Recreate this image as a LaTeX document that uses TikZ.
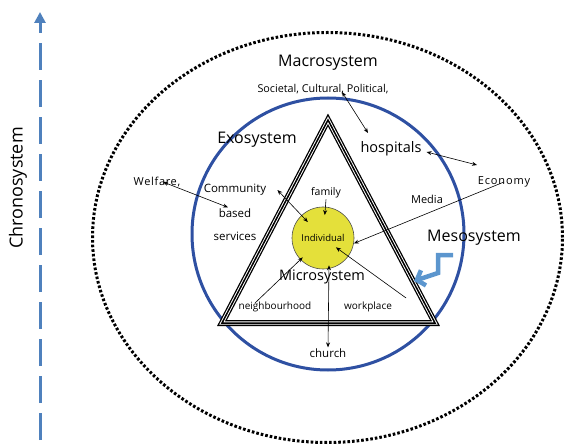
\documentclass[tikz,border=0pt]{standalone}
\usepackage{fontspec}
\setmainfont{Open Sans}
\usepackage{xcolor}
\usetikzlibrary{arrows.meta}
\definecolor{chronoblue}{RGB}{79,129,189}
\definecolor{exoblue}{RGB}{46,80,162}
\definecolor{mesoblue}{RGB}{92,150,206}
\definecolor{indyellow}{RGB}{228,224,58}

\begin{document}
\begin{tikzpicture}[x=1pt,y=-1pt,
  conn/.style={line width=0.6pt,-{Stealth[length=5pt,width=4pt]}},
  both/.style={line width=0.6pt,{Stealth[length=5pt,width=4pt]}-{Stealth[length=5pt,width=4pt]}},
  sys/.style={font=\fontsize{16}{18}\selectfont,inner sep=1pt},
  lbl/.style={font=\fontsize{11}{13}\selectfont,inner sep=1pt}]
  \useasboundingbox (0,0) rectangle (567,446);

  % outer rings
  \draw[line width=3pt,dash pattern=on 2.6pt off 2pt] (327.5,237.5) ellipse [x radius=235pt,y radius=205pt];
  \draw[exoblue,line width=3pt] (328,234) circle (136pt);

  % triangle
  \coordinate (top) at (328,120);
  \coordinate (left) at (222,323);
  \coordinate (right) at (435,323);
  \draw[line width=6pt,line join=miter] (top) -- (left) -- (right) -- cycle;
  \draw[white,line width=3.4pt,line join=miter] (top) -- (left) -- (right) -- cycle;
  \draw[line width=1.5pt,line join=miter] (top) -- (left) -- (right) -- cycle;

  % time axis
  \coordinate (chronoBot) at (40,440);
  \coordinate (chronoTop) at (40,12);
  \draw[chronoblue,line width=3pt,dash pattern=on 27pt off 10pt,-{Triangle[length=11pt,width=11pt]}] (chronoBot) -- (chronoTop);
  \node[rotate=90,font=\fontsize{18}{20}\selectfont] (chrono) at (18,188) {Chronosystem};

  \node[sys] (macro) at (328,63) {Macrosystem};
  \node[lbl,font=\fontsize{10.8}{12}\selectfont] (societal) at (323,89) {Societal, Cultural, Political,};
  \node[sys] (exo) at (257,140) {Exosystem};
  \node[sys,font=\fontsize{14.5}{16}\selectfont] (hosp) at (391,149) {hospitals};
  \node[lbl,font=\fontsize{11}{13}\selectfont\addfontfeature{LetterSpace=8}] (econ) at (504,182) {Economy};
  \node[lbl] (media) at (427,199) {Media};
  \node[sys] (meso) at (474,238) {Mesosystem};
  \node[lbl,font=\fontsize{11}{13}\selectfont\addfontfeature{LetterSpace=6}] (welfare) at (157,182) {Welfare,};
  \node[lbl,font=\fontsize{11.5}{13}\selectfont] (comm) at (235,190) {Community};
  \node[lbl,font=\fontsize{11.5}{13}\selectfont] (based) at (235,213) {based};
  \node[lbl,font=\fontsize{11.5}{13}\selectfont] (services) at (235,236) {services};

  \node[circle,draw=black!70,line width=0.6pt,fill=indyellow,minimum size=62pt,inner sep=0pt,font=\fontsize{9.5}{11}\selectfont] (ind) at (323,238) {Individual};
  \node[lbl,font=\fontsize{10.5}{12}\selectfont] (family) at (326,193) {family};
  \node[sys,font=\fontsize{14.5}{16}\selectfont] (micro) at (322,277) {Microsystem};
  \node[lbl,font=\fontsize{10}{12}\selectfont] (neigh) at (275,307) {neighbourhood};
  \node[lbl,font=\fontsize{10}{12}\selectfont] (work) at (368,307) {workplace};
  \node[lbl,font=\fontsize{11.5}{13}\selectfont] (church) at (328,353) {church};

  % links
  \draw[both] ([xshift=19pt,yshift=-3pt]societal.center) -- ([xshift=-23pt,yshift=16pt]hosp.center);
  \draw[both] ([xshift=4pt,yshift=-3pt]hosp.east) -- ([xshift=-27pt,yshift=17pt]econ.center);
  \draw[conn] (econ.center) -- (ind.-10);
  \draw[both] ([xshift=6pt]welfare.center) -- ([xshift=-7pt]based.north);
  \draw[both] ([xshift=10pt]comm.east) -- (ind.center) [shorten >=22pt];
  \draw[conn] (family.south) -- (ind.center) [shorten >=23pt];
  \draw[conn] ([xshift=-20pt,yshift=4pt]neigh.center) -- (ind.center) [shorten >=28pt];
  \draw[conn] ([xshift=13pt,yshift=9pt]work.east) -- (ind.center) [shorten >=16pt];
  \draw[both] (church.north) -- ([xshift=6pt,yshift=4pt]ind.south);

  % meso arrow
  \draw[mesoblue,line width=4.5pt,line join=miter,-{Straight Barb[length=7pt,width=16pt]}] (453,255) -- (438,255) -- (438,273) -- (414,281);
\end{tikzpicture}
\end{document}
